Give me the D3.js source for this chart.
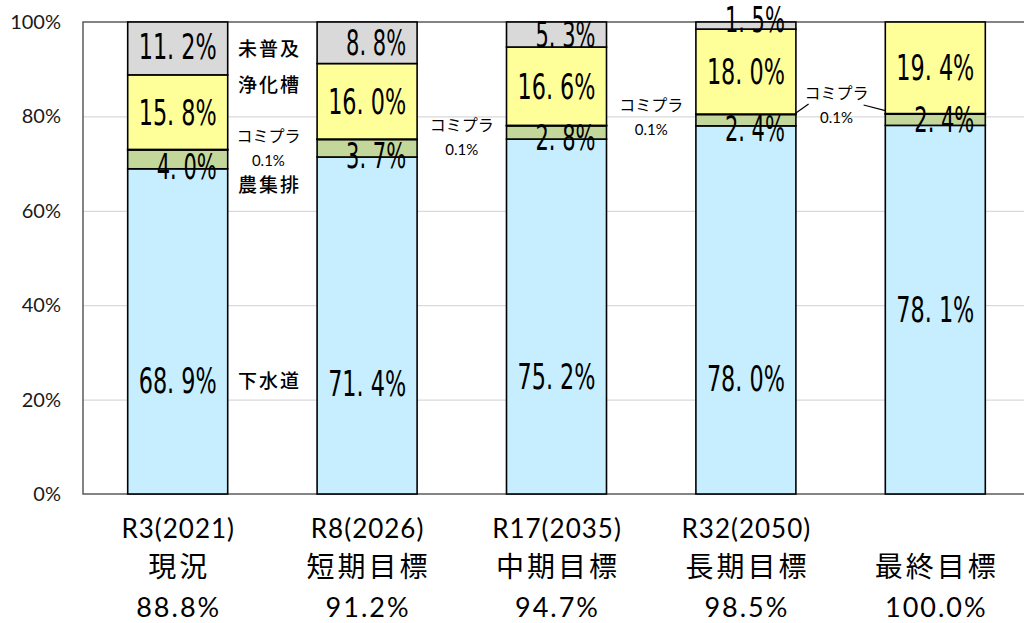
<!DOCTYPE html>
<html><head><meta charset="utf-8">
<script src="https://cdn.jsdelivr.net/npm/d3@7"></script>
<style>
html,body{margin:0;padding:0;background:#fff;}
svg{display:block;}
</style></head>
<body>
<svg id="chart" width="1024" height="623"></svg>
<script>
// ---- data ----
const periods = ["R3(2021)", "R8(2026)", "R17(2035)", "R32(2050)", ""];
const stages = ["現況", "短期目標", "中期目標", "長期目標", "最終目標"];
const coverage = ["88.8%", "91.2%", "94.7%", "98.5%", "100.0%"];
const seriesNames = ["下水道", "農集排", "コミプラ", "浄化槽", "未普及"];
const sewer = [68.9, 71.4, 75.2, 78.0, 78.1];
const ruralSewer = [4.0, 3.7, 2.8, 2.4, 2.4];
const communityPlant = [0.1, 0.1, 0.1, 0.1, 0.1];
const septicTank = [15.8, 16.0, 16.6, 18.0, 19.4];
const unserved = [11.2, 8.8, 5.3, 1.5, 0];
const yTicks = [0, 20, 40, 60, 80, 100];

// ---- layout / style ----
const colors = {"下水道": "#C6EEFF", "農集排": "#C4D79B", "コミプラ": "#FFFFFF", "浄化槽": "#FFFF99", "未普及": "#D9D9D9"};
const plot = {left: 83, right: 1030, top: 22, bottom: 494};
const svg = d3.select("#chart");

const rows = periods.map((p, i) => ({
  idx: i,
  "下水道": sewer[i], "農集排": ruralSewer[i], "コミプラ": communityPlant[i],
  "浄化槽": septicTank[i], "未普及": unserved[i]
}));
const stacked = d3.stack().keys(seriesNames)(rows);

const x = d3.scaleBand().domain(d3.range(periods.length))
  .range([plot.left, plot.right]).paddingInner(0.472).paddingOuter(0.236);
const y = d3.scaleLinear().domain([0, 100]).range([plot.bottom, plot.top]);
const bw = x.bandwidth();

// gridlines
const grid = svg.append("g").attr("transform", `translate(${plot.left},0)`)
  .call(d3.axisLeft(y).tickValues(yTicks.slice(1, -1)).tickSize(-(plot.right - plot.left)).tickFormat(""));
grid.select(".domain").remove();
grid.selectAll("line").attr("stroke", "#D9D9D9").attr("stroke-width", 1.3);

// plot border
svg.append("rect").attr("x", plot.left).attr("y", plot.top)
  .attr("width", plot.right - plot.left).attr("height", plot.bottom - plot.top)
  .attr("fill", "none").attr("stroke", "#505050").attr("stroke-width", 1.4);

// y axis
const yAxis = svg.append("g").attr("transform", `translate(${plot.left},0)`)
  .call(d3.axisLeft(y).tickValues(yTicks).tickSize(0).tickPadding(22).tickFormat(d => d + "%"));
yAxis.select(".domain").remove();
yAxis.selectAll("text").attr("font-family", "Lato, 'Open Sans', sans-serif")
  .attr("font-size", 20).attr("fill", "#1a1a1a");

// bars
const layer = svg.append("g").selectAll("g").data(stacked).join("g")
  .attr("fill", d => colors[d.key]);
layer.selectAll("rect").data(d => d.filter(s => s[1] - s[0] > 0)).join("rect")
  .attr("x", d => x(d.data.idx))
  .attr("width", bw)
  .attr("y", d => y(d[1]))
  .attr("height", d => y(d[0]) - y(d[1]))
  .attr("stroke", "#000").attr("stroke-width", 1.6);

// data labels
const labelDy = {"農集排": [7, 7, 5, 8, 0], "未普及": [-2, 0, 0, -6, 0]};
const sewerLabelAt = [24, 23.5, 25, 24.5, null];
const fmt = d3.format(".1f");
const labels = [];
stacked.forEach(s => {
  if (s.key === "コミプラ") return;
  s.forEach((seg, i) => {
    const v = seg[1] - seg[0];
    if (v <= 0) return;
    let cy = (y(seg[0]) + y(seg[1])) / 2;
    if (s.key === "下水道" && sewerLabelAt[i] != null) cy = y(sewerLabelAt[i]);
    if (labelDy[s.key]) cy += labelDy[s.key][i];
    const parts = fmt(v).split(".");
    labels.push({i, cy, text: parts[0] + ". " + parts[1] + "%", len: parts[0].length > 1 ? 78 : 60});
  });
});
svg.append("g").selectAll("text").data(labels).join("text")
  .attr("text-anchor", "end")
  .attr("font-family", "'Liberation Sans Narrow', 'DejaVu Sans Condensed', 'Liberation Sans', sans-serif")
  .attr("font-size", 35)
  .attr("fill", "#000")
  .text(d => d.text)
  .each(function(d) {
    const w = this.getComputedTextLength();
    const sx = d.len / w;
    d3.select(this).attr("transform", `translate(${x(d.i) + bw / 2 + 39},${d.cy + 12.5}) scale(${sx},1)`);
  });

// series name annotations beside first bar
const gapMid = i => (x(i) + bw + x(i + 1)) / 2;
const seriesLabelAt = {"未普及": 94.2, "浄化槽": 86.6, "農集排": 65.5, "下水道": 24};
const ann = svg.append("g").attr("font-family", "'Noto Sans CJK JP', sans-serif").attr("fill", "#000");
Object.entries(seriesLabelAt).forEach(([k, v]) => {
  ann.append("text").attr("x", gapMid(0) - 3).attr("y", y(v) + 7)
    .attr("text-anchor", "middle").attr("font-size", 19).attr("font-weight", 500)
    .attr("letter-spacing", 2).text(k);
});

// コミプラ 0.1% annotations
const cpDy = [-13, -14, -20, -21];
stacked.find(s => s.key === "コミプラ").forEach((seg, i) => {
  if (i > 3) return;
  const cx = gapMid(i) - (i === 0 ? 4 : i === 3 ? 4 : 0);
  const cy = y(seg[1]) + cpDy[i];
  ann.append("text").attr("x", cx).attr("y", cy + 6)
    .attr("text-anchor", "middle").attr("font-size", 16).text(seriesNames[2]);
  ann.append("text").attr("x", cx).attr("y", cy + 30)
    .attr("text-anchor", "middle").attr("font-family", "Lato, 'Open Sans', sans-serif")
    .attr("font-size", 15).text(fmt(communityPlant[i]) + "%");
  if (i === 3) {
    ann.append("line").attr("x1", x(3) + bw).attr("y1", y(seg[1]) - 1)
      .attr("x2", cx - 28).attr("y2", cy + 11).attr("stroke", "#000").attr("stroke-width", 1.2);
    const s5 = stacked.find(s => s.key === "コミプラ")[4];
    ann.append("line").attr("x1", cx + 27).attr("y1", cy + 12)
      .attr("x2", x(4)).attr("y2", y(s5[1]) - 3).attr("stroke", "#000").attr("stroke-width", 1.2);
  }
});

// x axis labels
const xAxis = svg.append("g").attr("transform", `translate(0,${plot.bottom})`)
  .call(d3.axisBottom(x).tickSize(0).tickFormat(""));
xAxis.select(".domain").remove();
xAxis.selectAll(".tick").each(function(i) {
  const g = d3.select(this);
  g.append("text").attr("y", 44).attr("text-anchor", "middle")
    .attr("font-family", "Lato, 'Open Sans', sans-serif").attr("font-size", 26)
    .attr("letter-spacing", 1).attr("dx", 0.5).attr("fill", "#000")
    .text(periods[i]);
  g.append("text").attr("y", 83).attr("text-anchor", "middle")
    .attr("font-family", "'Noto Sans CJK JP', sans-serif").attr("font-size", 28)
    .attr("letter-spacing", 3).attr("dx", 1.5).attr("fill", "#000")
    .text(stages[i]);
  g.append("text").attr("y", 123).attr("text-anchor", "middle")
    .attr("font-family", "Lato, 'Open Sans', sans-serif").attr("font-size", 27)
    .attr("letter-spacing", 2).attr("dx", 1).attr("fill", "#000")
    .text(coverage[i]);
});
</script>
</body></html>
